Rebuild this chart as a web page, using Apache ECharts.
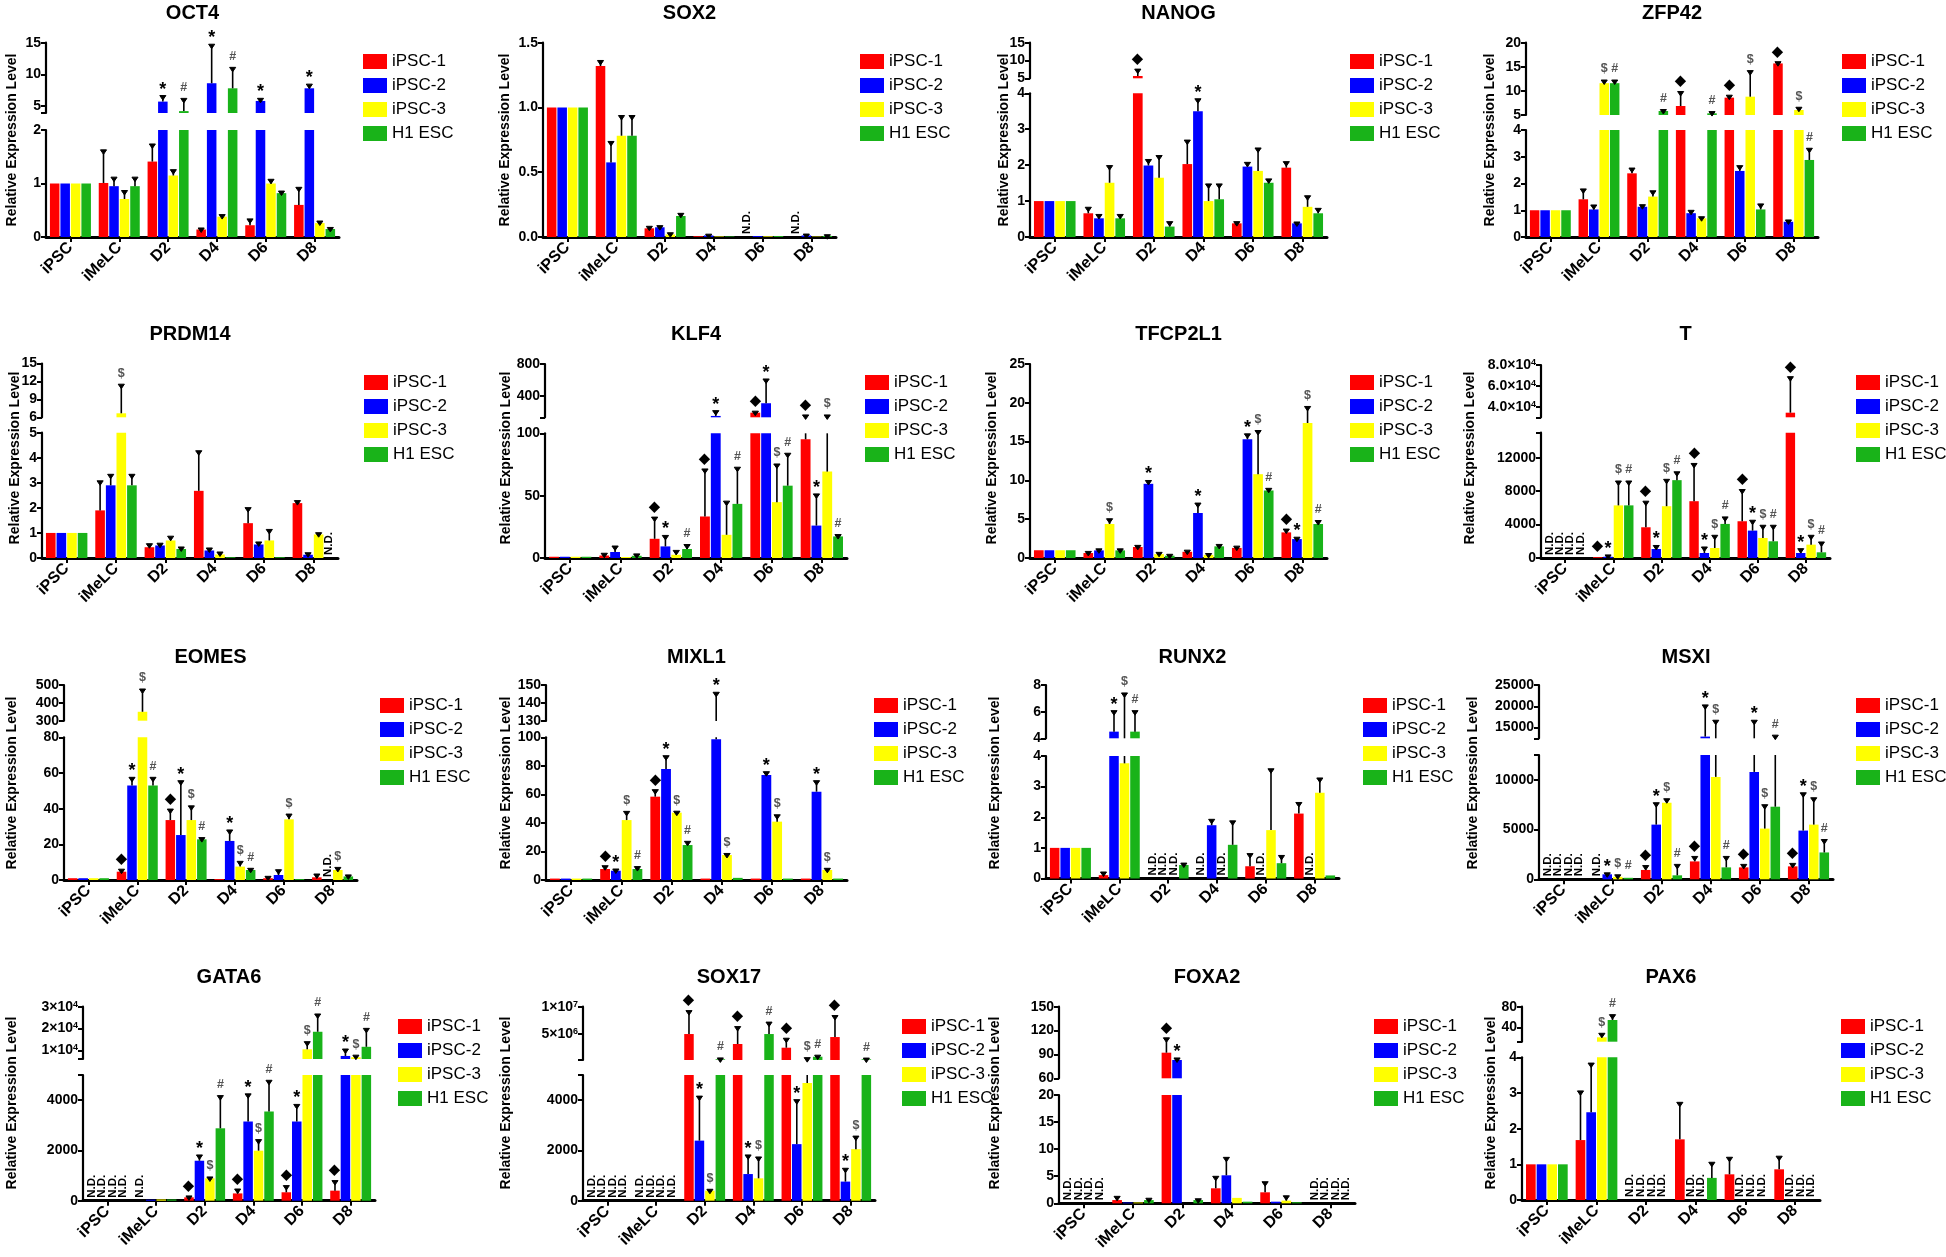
<!DOCTYPE html>
<html>
<head>
<meta charset="utf-8">
<script src="https://cdn.jsdelivr.net/npm/echarts@6/dist/echarts.min.js"></script>
<style>html,body{margin:0;padding:0;background:#fff}#c{width:1946px;height:1257px}</style>
</head>
<body>
<div id="c"></div>
<script>
// ---------------- DATA ----------------
const CATEGORIES = ['iPSC', 'iMeLC', 'D2', 'D4', 'D6', 'D8'];
const SERIES = ['iPSC-1', 'iPSC-2', 'iPSC-3', 'H1 ESC'];
const MARKS = ['◆', '*', '$', '#'];

// rows: iPSC-1, iPSC-2, iPSC-3, H1 ESC ; columns: categories ; null = N.D.
const OCT4_mean = [[1, 1.01, 1.41, 0.14, 0.22, 0.6], [1, 0.95, 5.7, 8.6, 5.8, 7.8], [1, 0.71, 1.15, 0.38, 1.0, 0.26], [1, 0.95, 4.2, 7.8, 0.82, 0.15]];
const OCT4_err = [[0, 0.6, 0.31, 0.01, 0.1, 0.31], [0, 0.15, 0.8, 6.0, 0.26, 0.5], [0, 0.14, 0.09, 0.02, 0.06, 0.02], [0, 0.15, 1.85, 3.15, 0.02, 0.01]];
const OCT4_sig = [[0, 0, 0, 0, 0, 0], [0, 0, 1, 1, 1, 1], [0, 0, 0, 0, 0, 0], [0, 0, 1, 1, 0, 0]];
const OCT4_lowTicks = [0, 1, 2], OCT4_upTicks = [5, 10, 15];

const SOX2_mean = [[1, 1.32, 0.067, 0.006, null, null], [1, 0.576, 0.075, 0.012, 0.007, 0.012], [1, 0.782, 0.02, 0.004, 0.005, 0.003], [1, 0.782, 0.162, 0.004, 0.007, 0.008]];
const SOX2_err = [[0, 0.035, 0.008, 0, 0, 0], [0, 0.154, 0.005, 0.002, 0, 0.003], [0, 0.148, 0.005, 0, 0, 0], [0, 0.148, 0.013, 0, 0, 0.002]];
const SOX2_sig = [[0, 0, 0, 0, 0, 0], [0, 0, 0, 0, 0, 0], [0, 0, 0, 0, 0, 0], [0, 0, 0, 0, 0, 0]];
const SOX2_lowTicks = [0, 0.5, 1, 1.5], SOX2_lowLabels = ['0.0', '0.5', '1.0', '1.5'];

const NANOG_mean = [[1, 0.66, 5.65, 2.03, 0.38, 1.93], [1, 0.52, 1.99, 3.5, 1.96, 0.38], [1, 1.51, 1.65, 1.0, 1.84, 0.84], [1, 0.52, 0.29, 1.05, 1.51, 0.66]];
const NANOG_err = [[0, 0.14, 1.65, 0.64, 0.02, 0.14], [0, 0.08, 0.14, 0.32, 0.09, 0.01], [0, 0.45, 0.59, 0.45, 0.61, 0.28], [0, 0.08, 0.11, 0.4, 0.08, 0.11]];
const NANOG_sig = [[0, 0, 1, 0, 0, 0], [0, 0, 0, 1, 0, 0], [0, 0, 0, 0, 0, 0], [0, 0, 0, 0, 0, 0]];
const NANOG_lowTicks = [0, 1, 2, 3, 4], NANOG_upTicks = [5, 10, 15];

const ZFP42_mean = [[1, 1.41, 2.38, 6.87, 8.6, 15.7], [1, 1.03, 1.13, 0.89, 2.47, 0.57], [1, 11.6, 1.51, 0.7, 8.8, 6.04], [1, 11.6, 5.83, 5.35, 1.03, 2.88]];
const ZFP42_err = [[0, 0.35, 0.16, 2.8, 0.3, 0.15], [0, 0.13, 0.04, 0.07, 0.16, 0.03], [0, 0.45, 0.18, 0.02, 5.2, 0.36], [0, 0.45, 0.1, 0.15, 0.17, 0.4]];
const ZFP42_sig = [[0, 0, 0, 1, 1, 1], [0, 0, 0, 0, 0, 0], [0, 1, 0, 0, 1, 1], [0, 1, 1, 1, 0, 1]];
const ZFP42_lowTicks = [0, 1, 2, 3, 4], ZFP42_upTicks = [5, 10, 15, 20];

const PRDM14_mean = [[1, 1.9, 0.43, 2.68, 1.39, 2.19], [1, 2.9, 0.5, 0.3, 0.54, 0.13], [1, 6.67, 0.7, 0.14, 0.7, 0.94], [1, 2.9, 0.36, 0.03, 0.03, null]];
const PRDM14_err = [[0, 1.14, 0.1, 1.56, 0.58, 0.06], [0, 0.4, 0.05, 0.06, 0.06, 0.04], [0, 4.7, 0.13, 0.06, 0.4, 0.03], [0, 0.4, 0.04, 0, 0, 0]];
const PRDM14_sig = [[0, 0, 0, 0, 0, 0], [0, 0, 0, 0, 0, 0], [0, 1, 0, 0, 0, 0], [0, 0, 0, 0, 0, 0]];
const PRDM14_lowTicks = [0, 1, 2, 3, 4, 5], PRDM14_upTicks = [6, 9, 12, 15];

const KLF4_mean = [[1, 2, 15.4, 33.3, 191, 95.2], [1, 4.8, 9.3, 150, 309, 26], [1, 0.8, 2.6, 18.6, 44.8, 69.3], [1, 1.8, 7.2, 43.4, 58, 17.3]];
const KLF4_err = [[0, 1, 16.6, 37.3, 6, 55], [0, 4, 8, 54, 291, 24.6], [0, 0, 2.7, 26.2, 29.8, 80.7], [0, 0.7, 2.8, 28.6, 25.2, 0.7]];
const KLF4_sig = [[0, 0, 1, 1, 1, 1], [0, 0, 1, 1, 1, 1], [0, 0, 0, 0, 1, 1], [0, 0, 1, 1, 1, 1]];
const KLF4_lowTicks = [0, 50, 100], KLF4_upTicks = [400, 800];

const TFCP2L1_mean = [[1, 0.64, 1.42, 0.8, 1.3, 3.3], [1, 0.98, 9.56, 5.8, 15.3, 2.44], [1, 4.38, 0.5, 0.4, 10.8, 17.4], [1, 0.98, 0.3, 1.5, 8.7, 4.38]];
const TFCP2L1_err = [[0, 0.08, 0.08, 0.08, 0.1, 0.3], [0, 0.07, 0.3, 1.15, 0.57, 0.11], [0, 0.55, 0.1, 0.05, 5.5, 2.0], [0, 0.07, 0.05, 0.12, 0.15, 0.32]];
const TFCP2L1_sig = [[0, 0, 0, 0, 0, 1], [0, 0, 1, 1, 1, 1], [0, 1, 0, 0, 1, 1], [0, 0, 0, 0, 1, 1]];
const TFCP2L1_lowTicks = [0, 5, 10, 15, 20, 25];

const T_mean = [[null, 100, 3680, 6800, 4400, 34400], [null, 150, 1080, 600, 3280, 600], [null, 6300, 6200, 1200, 2400, 1600], [null, 6300, 9320, 4080, 2000, 680]];
const T_err = [[0, 0, 3000, 4400, 3680, 33500], [0, 100, 300, 600, 1120, 400], [0, 2800, 3100, 1400, 1400, 1000], [0, 2800, 880, 720, 1800, 1120]];
const T_sig = [[0, 1, 1, 1, 1, 1], [0, 1, 1, 1, 1, 1], [0, 1, 1, 1, 1, 1], [0, 1, 1, 1, 1, 1]];
const T_lowTicks = [0, 4000, 8000, 12000], T_upTicks = [40000, 60000, 80000];
const T_upLabels = ['4.0×10{s|4}', '6.0×10{s|4}', '8.0×10{s|4}'];

const EOMES_mean = [[1, 4.65, 33.6, 0.5, 1, 1.5], [1, 53, 25.2, 21.9, 2.8, null], [1, 350, 33.6, 7.5, 34, 5.6], [1, 53, 22.8, 5.6, 0.5, 2]];
const EOMES_err = [[0, 0.85, 5.6, 0, 0.5, 1.3], [0, 4, 29.9, 5.6, 2.4, 0], [0, 122, 7.4, 2.4, 2.4, 0.9], [0, 4, 0.4, 0.4, 0, 0.3]];
const EOMES_sig = [[0, 1, 1, 0, 0, 0], [0, 1, 1, 1, 0, 0], [0, 1, 1, 1, 1, 1], [0, 1, 1, 1, 0, 0]];
const EOMES_lowTicks = [0, 20, 40, 60, 80], EOMES_upTicks = [300, 400, 500];

const MIXL1_mean = [[1, 7.7, 58.4, 1, 1, 1], [1, 6.5, 77.8, 98.6, 73.6, 61.9], [1, 42, 47.2, 17.5, 40.9, 7], [1, 7.7, 24.5, 1.5, 1, 1]];
const MIXL1_err = [[0, 1.6, 4.2, 0, 0, 0], [0, 0.5, 8.6, 46.8, 1.6, 7], [0, 5.4, 0.3, 0.4, 4.1, 0.5], [0, 1, 1.9, 0, 0, 0]];
const MIXL1_sig = [[0, 1, 1, 0, 0, 0], [0, 1, 1, 1, 1, 1], [0, 1, 1, 1, 1, 1], [0, 1, 1, 0, 0, 0]];
const MIXL1_lowTicks = [0, 20, 40, 60, 80, 100], MIXL1_upTicks = [130, 140, 150];

const RUNX2_mean = [[1, 0.11, null, null, 0.4, 2.12], [1, 4.5, null, 1.74, null, null], [1, 3.76, null, null, 1.58, 2.8], [1, 4.5, 0.44, 1.1, 0.5, 0.1]];
const RUNX2_err = [[0, 0.07, 0, 0, 0.38, 0.33], [0, 1.5, 0, 0.16, 0, 0], [0, 3.57, 0, 0, 1.97, 0.45], [0, 1.5, 0.03, 0.75, 0.22, 0]];
const RUNX2_sig = [[0, 0, 0, 0, 0, 0], [0, 1, 0, 0, 0, 0], [0, 1, 0, 0, 0, 0], [0, 1, 0, 0, 0, 0]];
const RUNX2_lowTicks = [0, 1, 2, 3, 4], RUNX2_upTicks = [4, 6, 8];

const MSXI_mean = [[null, null, 940, 1800, 1200, 1300], [null, 500, 5500, 12900, 10800, 4900], [null, 250, 7700, 10300, 5100, 5500], [null, 150, 400, 1200, 7300, 2700]];
const MSXI_err = [[0, 0, 340, 400, 200, 200], [0, 50, 2100, 7200, 5700, 3700], [0, 100, 300, 6200, 2300, 2600], [0, 0, 1000, 1000, 5700, 1200]];
const MSXI_sig = [[0, 0, 1, 1, 1, 1], [0, 1, 1, 1, 1, 1], [0, 1, 1, 1, 1, 1], [0, 1, 1, 1, 1, 1]];
const MSXI_lowTicks = [0, 5000, 10000], MSXI_upTicks = [15000, 20000, 25000];

const GATA6_mean = [[null, null, 135, 290, 335, 400], [null, 40, 1590, 3150, 3150, 7400], [null, 50, 890, 1990, 10450, 6800], [null, 50, 2880, 3550, 18500, 11600]];
const GATA6_err = [[0, 0, 15, 135, 225, 360], [0, 0, 190, 1060, 640, 2730], [0, 0, 15, 400, 3050, 500], [0, 0, 1260, 1200, 7700, 8000]];
const GATA6_sig = [[0, 0, 1, 1, 1, 1], [0, 0, 1, 1, 1, 1], [0, 0, 1, 1, 1, 1], [0, 0, 1, 1, 1, 1]];
const GATA6_lowTicks = [0, 2000, 4000], GATA6_upTicks = [10000, 20000, 30000];
const GATA6_upLabels = ['1×10{s|4}', '2×10{s|4}', '3×10{s|4}'];

const SOX17_mean = [[null, null, 5000000, 3180000, 2500000, 4450000], [null, null, 2390, 1060, 2250, 760], [null, null, 400, 890, 4680, 2050], [null, null, 380000, 5000000, 850000, 380000]];
const SOX17_err = [[0, 0, 4100000, 3000000, 1550000, 3750000], [0, 0, 1730, 720, 1730, 490], [0, 0, 15, 810, 495000, 480], [0, 0, 70000, 2000000, 100000, 40000]];
const SOX17_sig = [[0, 0, 1, 1, 1, 1], [0, 0, 1, 1, 1, 1], [0, 0, 1, 1, 1, 1], [0, 0, 1, 1, 1, 1]];
const SOX17_lowTicks = [0, 2000, 4000], SOX17_upTicks = [5000000, 10000000];
const SOX17_upLabels = ['5×10{s|6}', '1×10{s|7}'];

const FOXA2_mean = [[null, 0.6, 92.2, 2.77, 2.03, null], [null, 0.15, 83, 5.17, 0.3, null], [null, 0.15, 0, 1.0, 0.5, null], [null, 0.6, 0.6, 0.3, 0.2, null]];
const FOXA2_err = [[0, 0.5, 17.4, 2.03, 1.77, 0], [0, 0, 1.3, 3.13, 0, 0], [0, 0, 0, 0, 0.7, 0], [0, 0.15, 0.05, 0, 0, 0]];
const FOXA2_sig = [[0, 0, 1, 0, 0, 0], [0, 0, 1, 0, 0, 0], [0, 0, 0, 0, 0, 0], [0, 0, 0, 0, 0, 0]];
const FOXA2_lowTicks = [0, 5, 10, 15, 20], FOXA2_upTicks = [60, 90, 120, 150];

const PAX6_mean = [[1, 1.68, null, 1.7, 0.72, 0.86], [1, 2.46, null, null, null, null], [1, 20.5, null, null, null, null], [1, 54.2, null, 0.62, null, null]];
const PAX6_err = [[0, 1.35, 0, 1.01, 0.45, 0.34], [0, 1.35, 0, 0, 0, 0], [0, 5.9, 0, 0, 0, 0], [0, 8.4, 0, 0.41, 0, 0]];
const PAX6_sig = [[0, 0, 0, 0, 0, 0], [0, 0, 0, 0, 0, 0], [0, 1, 0, 0, 0, 0], [0, 1, 0, 0, 0, 0]];
const PAX6_lowTicks = [0, 1, 2, 3, 4], PAX6_upTicks = [40, 80];

// ---------------- LAYOUT / STYLE ----------------
const FONT = 'Liberation Sans, Arial, Helvetica, sans-serif';
const COLORS = ['#ff0000', '#0000ff', '#ffff00', '#19b319'];

const PANELS = [
  { name: 'OCT4', mean: OCT4_mean, err: OCT4_err, sig: OCT4_sig, low: OCT4_lowTicks, up: OCT4_upTicks,
    L: { x: 46, x2: 339, base: 237, lowTop: 130, upBot: 113, upTop: 42.7, lowMax: 2, upMin: 3.9, upMax: 15, legX: 358, legY: 56, ylX: 12, ylY: 140, tY: 13 } },
  { name: 'SOX2', mean: SOX2_mean, err: SOX2_err, sig: SOX2_sig, low: SOX2_lowTicks, lowLabels: SOX2_lowLabels,
    L: { x: 543, x2: 836, base: 237, lowTop: 42.7, lowMax: 1.5, legX: 855, legY: 56, ylX: 505, ylY: 140, tY: 13 } },
  { name: 'NANOG', mean: NANOG_mean, err: NANOG_err, sig: NANOG_sig, low: NANOG_lowTicks, up: NANOG_upTicks,
    L: { x: 1030, x2: 1327, base: 237, lowTop: 93.3, upBot: 78.3, upTop: 42.7, lowMax: 4, upMin: 5, upMax: 15, legX: 1345, legY: 56, ylX: 1004, ylY: 140, tY: 13 } },
  { name: 'ZFP42', mean: ZFP42_mean, err: ZFP42_err, sig: ZFP42_sig, low: ZFP42_lowTicks, up: ZFP42_upTicks,
    L: { x: 1526, x2: 1818, base: 237, lowTop: 130, upBot: 115, upTop: 42.7, lowMax: 4, upMin: 5, upMax: 20, legX: 1837, legY: 56, ylX: 1490, ylY: 140, tY: 13 } },

  { name: 'PRDM14', mean: PRDM14_mean, err: PRDM14_err, sig: PRDM14_sig, low: PRDM14_lowTicks, up: PRDM14_upTicks,
    L: { x: 42, x2: 338, base: 558, lowTop: 432.7, upBot: 417.3, upTop: 363.5, lowMax: 5, upMin: 6, upMax: 15, legX: 359, legY: 377, ylX: 15, ylY: 458, tY: 334 } },
  { name: 'KLF4', mean: KLF4_mean, err: KLF4_err, sig: KLF4_sig, low: KLF4_lowTicks, up: KLF4_upTicks,
    L: { x: 545, x2: 847, base: 558, lowTop: 433.3, upBot: 417.3, upTop: 364, lowMax: 100, upMin: 133, upMax: 800, legX: 860, legY: 377, ylX: 506, ylY: 458, tY: 334 } },
  { name: 'TFCP2L1', mean: TFCP2L1_mean, err: TFCP2L1_err, sig: TFCP2L1_sig, low: TFCP2L1_lowTicks,
    L: { x: 1030, x2: 1327, base: 558, lowTop: 364, lowMax: 25, legX: 1345, legY: 377, ylX: 992, ylY: 458, tY: 334 } },
  { name: 'T', mean: T_mean, err: T_err, sig: T_sig, low: T_lowTicks, up: T_upTicks, upLabels: T_upLabels,
    L: { x: 1541, x2: 1830, base: 558, lowTop: 432.7, upBot: 417.3, upTop: 365, lowMax: 15000, upMin: 30000, upMax: 80000, legX: 1851, legY: 377, ylX: 1470, ylY: 458, tY: 334 } },

  { name: 'EOMES', mean: EOMES_mean, err: EOMES_err, sig: EOMES_sig, low: EOMES_lowTicks, up: EOMES_upTicks,
    L: { x: 64, x2: 357, base: 880, lowTop: 737.3, upBot: 720.7, upTop: 685, lowMax: 80, upMin: 300, upMax: 500, legX: 375, legY: 700, ylX: 12, ylY: 783, tY: 657 } },
  { name: 'MIXL1', mean: MIXL1_mean, err: MIXL1_err, sig: MIXL1_sig, low: MIXL1_lowTicks, up: MIXL1_upTicks,
    L: { x: 546, x2: 847, base: 880, lowTop: 737.3, upBot: 721, upTop: 685, lowMax: 100, upMin: 130, upMax: 150, legX: 869, legY: 700, ylX: 506, ylY: 783, tY: 657 } },
  { name: 'RUNX2', mean: RUNX2_mean, err: RUNX2_err, sig: RUNX2_sig, low: RUNX2_lowTicks, up: RUNX2_upTicks,
    L: { x: 1046, x2: 1339, base: 878.5, lowTop: 756, upBot: 738.3, upTop: 685, lowMax: 4, upMin: 4, upMax: 8, legX: 1358, legY: 700, ylX: 995, ylY: 783, tY: 657 } },
  { name: 'MSXI', mean: MSXI_mean, err: MSXI_err, sig: MSXI_sig, low: MSXI_lowTicks, up: MSXI_upTicks,
    L: { x: 1539, x2: 1833, base: 879.3, lowTop: 755, upBot: 738.3, upTop: 685, lowMax: 12500, upMin: 12500, upMax: 25000, legX: 1851, legY: 700, ylX: 1473, ylY: 783, tY: 657 } },

  { name: 'GATA6', mean: GATA6_mean, err: GATA6_err, sig: GATA6_sig, low: GATA6_lowTicks, up: GATA6_upTicks, upLabels: GATA6_upLabels,
    L: { x: 83, x2: 375, base: 1200.7, lowTop: 1075, upBot: 1059, upTop: 1006.7, lowMax: 5000, upMin: 6000, upMax: 30000, legX: 393, legY: 1021, ylX: 12, ylY: 1103, tY: 977 } },
  { name: 'SOX17', mean: SOX17_mean, err: SOX17_err, sig: SOX17_sig, low: SOX17_lowTicks, up: SOX17_upTicks, upLabels: SOX17_upLabels,
    L: { x: 583, x2: 875, base: 1200.7, lowTop: 1075, upBot: 1060, upTop: 1006.7, lowMax: 5000, upMin: 250000, upMax: 10000000, legX: 897, legY: 1021, ylX: 506, ylY: 1103, tY: 977 } },
  { name: 'FOXA2', mean: FOXA2_mean, err: FOXA2_err, sig: FOXA2_sig, low: FOXA2_lowTicks, up: FOXA2_upTicks,
    L: { x: 1059, x2: 1355, base: 1203.3, lowTop: 1095, upBot: 1078.3, upTop: 1006.7, lowMax: 20, upMin: 60, upMax: 150, legX: 1369, legY: 1021, ylX: 995, ylY: 1103, tY: 977 } },
  { name: 'PAX6', mean: PAX6_mean, err: PAX6_err, sig: PAX6_sig, low: PAX6_lowTicks, up: PAX6_upTicks,
    L: { x: 1522, x2: 1820, base: 1200, lowTop: 1057.3, upBot: 1041.7, upTop: 1006.7, lowMax: 4, upMin: 12, upMax: 80, legX: 1836, legY: 1021, ylX: 1491, ylY: 1103, tY: 977 } }
];

// ---------------- BUILD ----------------
const CAT_GAP = 0.16, BAR_GAP = 0.1;

function makeRender(lo, hi, isLower, hasUpper, lowMax) {
  return function (params, api) {
    const j = api.value(0), i = api.value(1), m = api.value(2), e = api.value(3), s = api.value(4), nd = api.value(5);
    const bw = api.size([1, 0])[0];
    const usable = bw * (1 - CAT_GAP);
    const w = usable / (4 + 3 * BAR_GAP);
    const cx = api.coord([j, lo])[0] - usable / 2 + i * w * (1 + BAR_GAP) + w / 2;
    const yOf = v => api.coord([j, v])[1];
    const ch = [];
    if (nd) {
      if (isLower) {
        ch.push({ type: 'text', x: cx, y: yOf(lo) - 3, rotation: Math.PI / 2,
          style: { text: 'N.D.', x: 0, y: 0, align: 'left', verticalAlign: 'middle', fontSize: 11.5, fontWeight: 'bold', fill: '#000', fontFamily: FONT } });
      }
      return { type: 'group', children: ch };
    }
    const top = m + e;
    if (e > 0) {
      const a = Math.max(m, lo), b = Math.min(top, hi);
      if (b > a) ch.push({ type: 'line', shape: { x1: cx, y1: yOf(a), x2: cx, y2: yOf(b) }, style: { stroke: '#000', lineWidth: 1.6 } });
      if (top >= lo && top <= hi) {
        const ty = yOf(top);
        ch.push({ type: 'polygon', shape: { points: [[cx - w * 0.32, ty - 1], [cx + w * 0.32, ty - 1], [cx, ty + 3.5]] }, style: { fill: '#000', stroke: '#000', lineWidth: 1 } });
      }
    }
    if (s) {
      const here = isLower ? (!hasUpper || top <= lowMax) : (top > lowMax);
      if (here) {
        const yy = yOf(Math.min(Math.max(top, lo), hi));
        const sym = MARKS[i];
        let st;
        if (sym === '*') st = { fontSize: 18, fill: '#000', dy: -7 };
        else if (sym === '◆') st = { fontSize: 14, fill: '#000', dy: -11 };
        else st = { fontSize: 12.5, fill: '#555', dy: -12 };
        ch.push({ type: 'text', x: cx, y: yy + st.dy,
          style: { text: sym, x: 0, y: 0, align: 'center', verticalAlign: 'middle', fontSize: st.fontSize, fontWeight: 'bold', fill: st.fill, fontFamily: FONT } });
      }
    }
    return { type: 'group', children: ch };
  };
}

const option = { animation: false, backgroundColor: '#fff', grid: [], xAxis: [], yAxis: [], series: [], legend: [], graphic: [] };

function yAxisCfg(gi, min, max, ticks, labels, extraTicks) {
  return {
    type: 'value', gridIndex: gi, min: min, max: max,
    axisLine: { show: true, onZero: false, lineStyle: { color: '#000', width: 2.2 } },
    axisTick: { show: true, length: 5, customValues: ticks.concat(extraTicks), lineStyle: { color: '#000', width: 2 } },
    axisLabel: {
      customValues: ticks, showMinLabel: true, showMaxLabel: true,
      formatter: v => { const k = ticks.indexOf(v); return labels ? labels[k] : String(v); },
      fontWeight: 'bold', fontSize: 14, color: '#000', fontFamily: FONT, margin: 5,
      rich: { s: { fontSize: 9, fontWeight: 'bold', fontFamily: FONT, color: '#000', verticalAlign: 'top', lineHeight: 10 } }
    },
    splitLine: { show: false }
  };
}

function addData(gi, P, lo, hi, isLower, hasUpper) {
  for (let i = 0; i < 4; i++) {
    option.series.push({
      type: 'bar', name: SERIES[i], xAxisIndex: gi, yAxisIndex: gi,
      data: P.mean[i], barGap: (BAR_GAP * 100) + '%', barCategoryGap: (CAT_GAP * 100) + '%',
      itemStyle: { color: COLORS[i] }, clip: true, silent: true
    });
  }
  const cd = [];
  for (let i = 0; i < 4; i++) for (let j = 0; j < 6; j++) {
    const m = P.mean[i][j];
    cd.push([j, i, m == null ? 0 : m, P.err[i][j], P.sig[i][j], m == null ? 1 : 0]);
  }
  option.series.push({
    type: 'custom', xAxisIndex: gi, yAxisIndex: gi, data: cd, clip: false, silent: true, z: 5,
    encode: { x: 0, y: 2 },
    renderItem: makeRender(lo, hi, isLower, hasUpper, P.L.lowMax)
  });
}

PANELS.forEach(P => {
  const L = P.L;
  const hasUpper = !!P.up;
  const gi = option.grid.length;
  option.grid.push({ left: L.x, top: L.lowTop, width: L.x2 - L.x, height: L.base - L.lowTop });
  option.xAxis.push({
    type: 'category', gridIndex: gi, data: CATEGORIES,
    axisLine: { show: true, lineStyle: { color: '#000', width: 3 } },
    axisTick: { show: true, alignWithLabel: true, length: 5, lineStyle: { color: '#000', width: 2 } },
    axisLabel: { interval: 0, rotate: 45, fontWeight: 'bold', fontSize: 16, color: '#000', fontFamily: FONT, margin: 8 }
  });
  option.yAxis.push(yAxisCfg(gi, 0, L.lowMax, P.low, P.lowLabels, hasUpper ? [L.lowMax] : []));
  addData(gi, P, 0, L.lowMax, true, hasUpper);
  if (hasUpper) {
    const gu = option.grid.length;
    option.grid.push({ left: L.x, top: L.upTop, width: L.x2 - L.x, height: L.upBot - L.upTop });
    option.xAxis.push({ type: 'category', gridIndex: gu, data: CATEGORIES, show: false });
    option.yAxis.push(yAxisCfg(gu, L.upMin, L.upMax, P.up, P.upLabels, [L.upMin]));
    addData(gu, P, L.upMin, L.upMax, false, true);
  }
  option.legend.push({
    data: SERIES, left: L.legX, top: L.legY - 8, orient: 'vertical', icon: 'rect',
    itemWidth: 24, itemHeight: 15, itemGap: 7, selectedMode: false,
    textStyle: { fontSize: 17, color: '#000', fontFamily: FONT, lineHeight: 16 }
  });
  option.graphic.push({ type: 'text', x: (L.x + L.x2) / 2, y: L.tY, style: { text: P.name, align: 'center', verticalAlign: 'middle', fontSize: 20, fontWeight: 'bold', fill: '#000', fontFamily: FONT } });
  option.graphic.push({ type: 'text', x: L.ylX, y: L.ylY, rotation: Math.PI / 2, style: { text: 'Relative Expression Level', align: 'center', verticalAlign: 'middle', fontSize: 14, fontWeight: 'bold', fill: '#000', fontFamily: FONT } });
});

const chart = echarts.init(document.getElementById('c'), null, { renderer: 'canvas' });
chart.setOption(option);
</script>
</body>
</html>
